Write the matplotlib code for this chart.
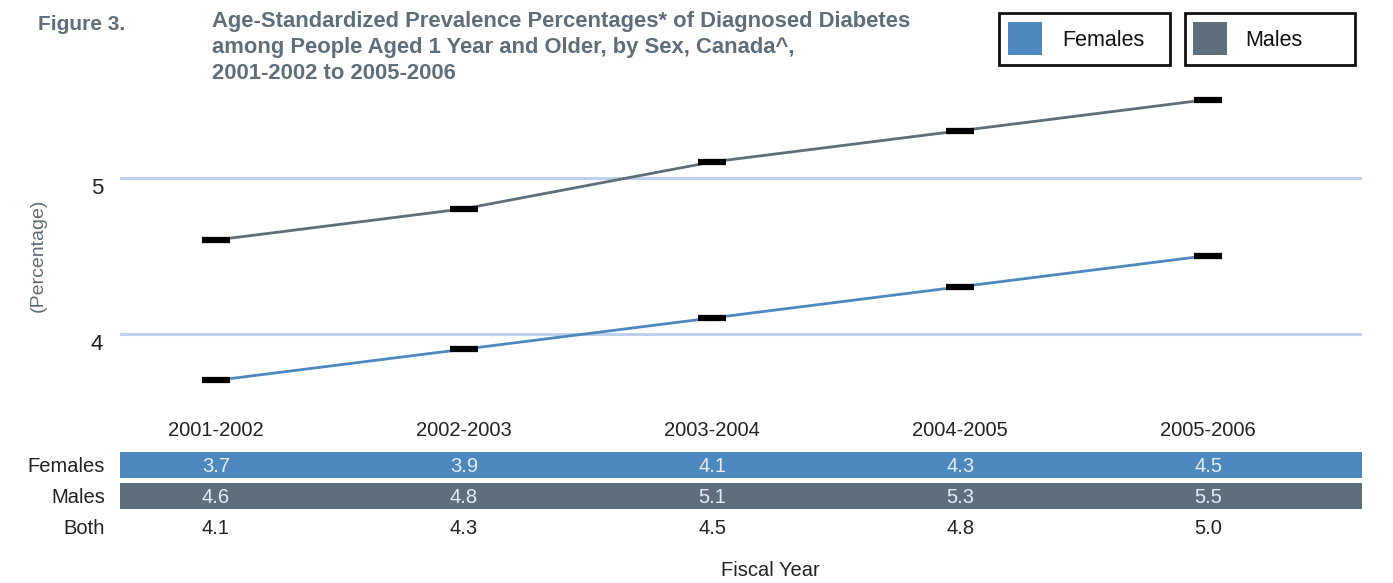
import matplotlib
matplotlib.use("Agg")
import matplotlib.pyplot as plt
from matplotlib.patches import Rectangle
from matplotlib.transforms import ScaledTranslation

plt.rcParams["font.family"] = ["Liberation Sans", "DejaVu Sans"]

years = ["2001-2002", "2002-2003", "2003-2004", "2004-2005", "2005-2006"]
females = [3.7, 3.9, 4.1, 4.3, 4.5]
males = [4.6, 4.8, 5.1, 5.3, 5.5]
both = [4.1, 4.3, 4.5, 4.8, 5.0]
yticks = [4, 5]

C_F = "#4d89bf"
C_M = "#5e6e7b"
C_TXT = "#5e6e7b"
C_GRID = "#bdd0ec"

W, H = 1393, 583
fig = plt.figure(figsize=(W / 100, H / 100), dpi=100)


def px(left, top, right, bottom):
    return [left / W, 1 - bottom / H, (right - left) / W, (bottom - top) / H]


x = list(range(len(years)))
xlim = (-0.387, 4.62)

ax = fig.add_axes(px(120, 90, 1362, 411.6))
ax.set_xlim(*xlim)
ax.set_ylim(3.5, 5.561)
for v in yticks:
    ax.axhline(v, color=C_GRID, lw=2.2, zorder=1)
ax.plot(x, males, "-", color=C_M, lw=2, zorder=2)
ax.plot(x, females, "-", color=C_F, lw=2, zorder=2)
for ys in (males, females):
    ax.plot(x, ys, ls="none", marker="_", ms=20, mew=4.5, color="black", zorder=3)
for s in ax.spines.values():
    s.set_visible(False)
ax.set_xticks([])
ax.set_yticks(yticks)
ax.set_yticklabels([str(v) for v in yticks], fontsize=16, color="#222222")
ax.tick_params(axis="y", length=0, pad=12)
for lab in ax.get_yticklabels():
    lab.set_transform(lab.get_transform() + ScaledTranslation(0, -8 / 100, fig.dpi_scale_trans))
fig.text(38 / W, 1 - 255 / H, "(Percentage)", rotation=90, ha="center", va="center",
         fontsize=14, color=C_TXT)

# category labels
tx = fig.add_axes(px(120, 419, 1362, 443))
tx.set_xlim(*xlim)
tx.axis("off")
for i, yr in enumerate(years):
    tx.text(i, 0.5, yr, ha="center", va="center", fontsize=14.5, color="#222222")

# data table
tb = fig.add_axes(px(120, 449.5, 1362, 542.5))
tb.set_xlim(*xlim)
tb.set_ylim(2.5, -0.5)
tb.axis("off")
rows = [("Females", females, C_F, "#e4ebf3"), ("Males", males, C_M, "#e4ebf3"),
        ("Both", both, None, "#222222")]
for r, (name, vals, bg, fg) in enumerate(rows):
    if bg:
        tb.barh(r, xlim[1] - xlim[0], left=xlim[0], height=0.84, color=bg)
    for i, v in enumerate(vals):
        tb.text(i, r + 0.05, f"{v:.1f}", ha="center", va="center", fontsize=14.5, color=fg)
    tb.text(-0.447, r + 0.05, name, ha="right", va="center", fontsize=14.5, color="#222222",
            clip_on=False)

fig.text(770 / W, 1 - 570 / H, "Fiscal Year", ha="center", va="center", fontsize=14.5,
         color="#222222")

# titles
fig.text(38 / W, 1 - 24 / H, "Figure 3.", ha="left", va="center", fontsize=15,
         fontweight="bold", color=C_TXT)
fig.text(212 / W, 1 - 11 / H,
         "Age-Standardized Prevalence Percentages* of Diagnosed Diabetes\n"
         "among People Aged 1 Year and Older, by Sex, Canada^,\n"
         "2001-2002 to 2005-2006",
         ha="left", va="top", fontsize=15.8, fontweight="bold", color=C_TXT, linespacing=1.32)

# legend boxes
for (l, r, sw, label, col, tcx) in [(999, 1170, 1008, "Females", C_F, 1103),
                                     (1185, 1355, 1193, "Males", C_M, 1274)]:
    fig.add_artist(Rectangle((l / W, 1 - 65 / H), (r - l) / W, 52 / H, transform=fig.transFigure,
                             fill=False, ec="#111111", lw=2))
    fig.add_artist(Rectangle((sw / W, 1 - 55 / H), 34 / W, 33 / H, transform=fig.transFigure,
                             fc=col, ec="none"))
    fig.text(tcx / W, 1 - 41 / H, label, ha="center", va="center", fontsize=15.5, color="#111111")

fig.savefig("out.png", dpi=100)
